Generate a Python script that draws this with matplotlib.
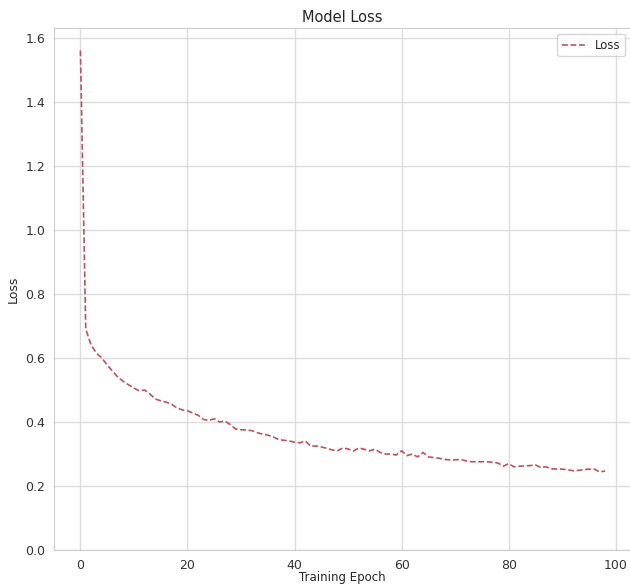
import matplotlib
matplotlib.use("Agg")
import matplotlib.pyplot as plt
import seaborn as sns

# loss per epoch
epochs = list(range(99))
loss = [1.56, 0.69, 0.64, 0.615, 0.60, 0.578, 0.559, 0.54, 0.527, 0.516,
        0.506, 0.497, 0.50, 0.487, 0.472, 0.466, 0.462, 0.456, 0.444, 0.438,
        0.435, 0.428, 0.421, 0.408, 0.405, 0.41, 0.40, 0.403, 0.392, 0.378,
        0.376, 0.375, 0.373, 0.367, 0.362, 0.359, 0.354, 0.345, 0.343, 0.341,
        0.337, 0.335, 0.341, 0.325, 0.325, 0.322, 0.318, 0.313, 0.31, 0.319,
        0.316, 0.309, 0.319, 0.315, 0.31, 0.315, 0.305, 0.30, 0.30, 0.297,
        0.31, 0.295, 0.30, 0.291, 0.305, 0.291, 0.289, 0.287, 0.283, 0.282,
        0.282, 0.283, 0.279, 0.276, 0.276, 0.276, 0.276, 0.274, 0.272, 0.262,
        0.27, 0.26, 0.262, 0.263, 0.264, 0.266, 0.258, 0.26, 0.254, 0.253,
        0.253, 0.251, 0.248, 0.249, 0.251, 0.253, 0.253, 0.244, 0.247]

sns.set_style("whitegrid")
plt.rcParams['font.family'] = ['DejaVu Sans']

fig = plt.figure(figsize=(6.3, 5.84), dpi=100)
ax = fig.add_axes([0.086, 0.058, 0.916, 0.894])
ax.plot(epochs, loss, '--', color='#b9545f', lw=1.2, dashes=(3.5, 1.6), label='Loss')
ax.set_ylim(0, 1.63)
ax.grid(color='#dcdcdc', lw=1.0)
ax.set_title('Model Loss', fontsize=10.5, color='#262626', pad=4)
ax.set_xlabel('Training Epoch', fontsize=8.5, color='#262626', labelpad=-1)
ax.set_ylabel('Loss', fontsize=9, color='#262626', labelpad=4)
ax.tick_params(labelsize=9, colors='#333333', pad=3)
ax.legend(loc='upper right', fontsize=8.5)

fig.savefig("out.png", dpi=100)
